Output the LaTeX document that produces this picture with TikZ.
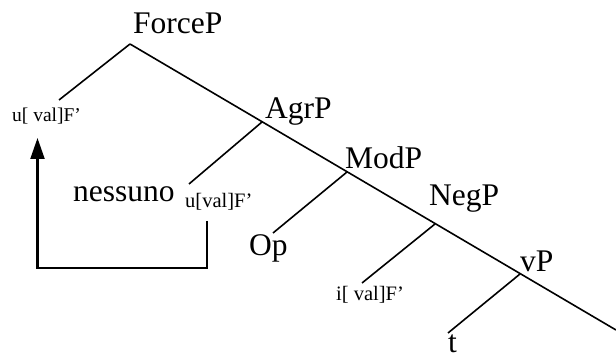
\documentclass[tikz,border=0pt]{standalone}
\usepackage{fontspec}
\setmainfont{Liberation Serif}
\usetikzlibrary{arrows.meta}
\begin{document}
\begin{tikzpicture}[x=1pt,y=-1pt,
  big/.style={inner sep=0pt,anchor=base west,font=\fontsize{31.5}{32}\selectfont},
  small/.style={inner sep=0pt,anchor=base west,font=\fontsize{20.5}{21}\selectfont},
  branch/.style={line width=1.6pt},
  loopline/.style={line width=2.2pt}]
\useasboundingbox (0,0) rectangle (616,358);
% labels
\node[big] (force) at (133,34) {ForceP};
\node[big] (agr) at (265,119) {AgrP};
\node[big] (mod) at (345,169) {ModP};
\node[big] (neg) at (429,206) {NegP};
\node[big] (vp) at (520,272) {vP};
\node[big] (op) at (249,256) {Op};
\node[big] (t) at (448,352) {t};
\node[big] (nes) at (73,202) {nessuno};
\node[small,font=\fontsize{19.5}{20}\selectfont] (uvalA) at (12,122) {u[ val]F’};
\node[small] (uvalB) at (185,208) {u[val]F’};
\node[small] (ival) at (336,301) {i[ val]F’};
% junctions
\coordinate (jF) at (130,44);
\coordinate (jA) at (262,122);
\coordinate (jM) at (347,172);
\coordinate (jN) at (435,224);
\coordinate (jV) at (520,274);
\coordinate (eR) at (616,330);
\coordinate (eU) at (59,100);
\coordinate (eNes) at (189,184);
\coordinate (eOp) at (273,233);
\coordinate (eI) at (362,283);
\coordinate (eT) at (448,333);
% tree
\draw[branch] (jF) -- (eR);
\draw[branch] (jF) -- (eU);
\draw[branch] (jA) -- (eNes);
\draw[branch] (jM) -- (eOp);
\draw[branch] (jN) -- (eI);
\draw[branch] (jV) -- (eT);
% movement arrow
\coordinate (aTop) at (207,221);
\coordinate (aBR) at (207,268);
\coordinate (aBL) at (37.5,268);
\coordinate (aTip) at (37.5,138);
\draw[loopline,-{Triangle[width=14pt,length=21pt]}] (aTop) -- (aBR) -- (aBL) -- (aTip);
\end{tikzpicture}
\end{document}
